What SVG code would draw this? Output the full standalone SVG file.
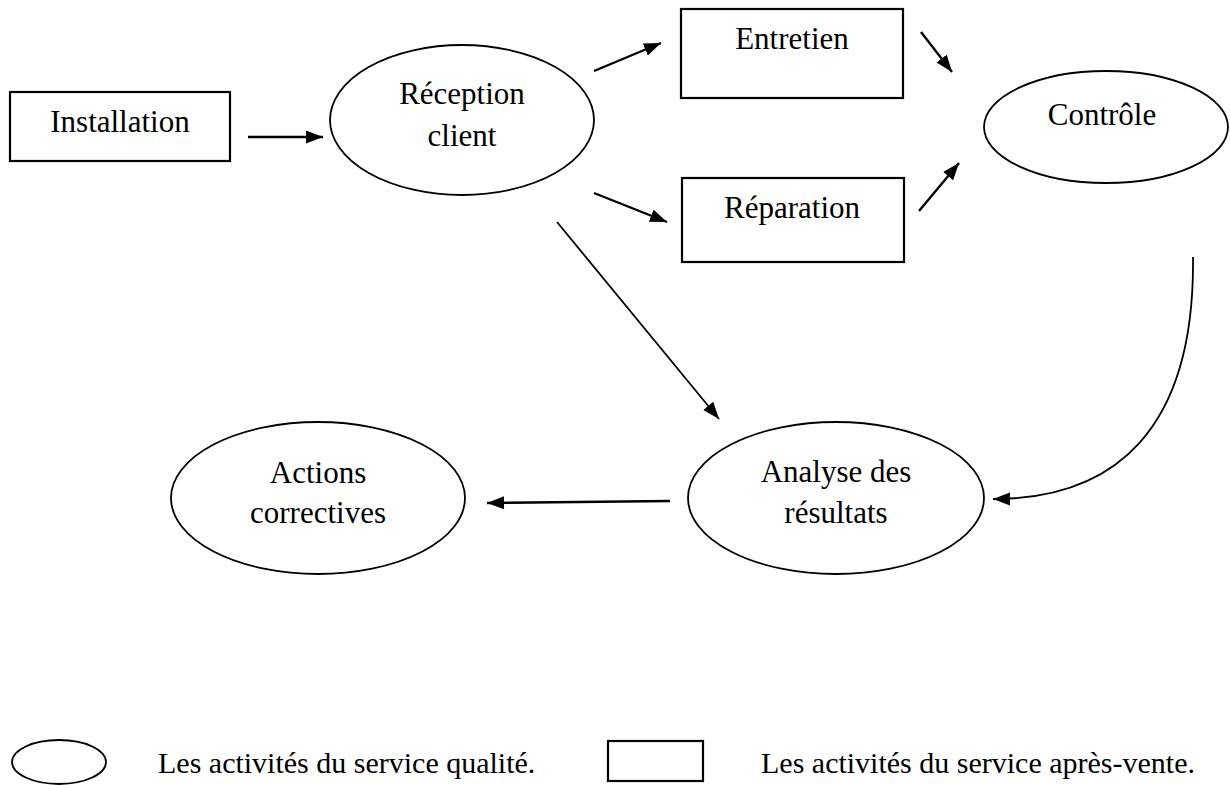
<svg xmlns="http://www.w3.org/2000/svg" width="1230" height="785" viewBox="0 0 1230 785">
  <style>
    .box { fill: #fff; stroke: #000; stroke-width: 2.2; }
    .oval { fill: #fff; stroke: #000; stroke-width: 1.8; }
    .lbl { font-family: "Liberation Serif", "Times New Roman", serif; font-size: 31px; fill: #000; text-anchor: middle; }
    .leg { font-family: "Liberation Serif", "Times New Roman", serif; font-size: 30px; fill: #000; }
    .edge { fill: none; stroke: #000; stroke-width: 2.4; marker-end: url(#arrow); }
    .thin { stroke-width: 1.8; }
  </style>
  <defs>
    <marker id="arrow" markerUnits="userSpaceOnUse" markerWidth="18" markerHeight="14" refX="17" refY="6.5" orient="auto">
      <path d="M0,0 L17,6.5 L0,13 Z" fill="#000"/>
    </marker>
  </defs>
  <rect width="1230" height="785" fill="#fff"/>

  <g id="installation">
    <rect class="box" x="10" y="92" width="220" height="69"/>
    <text class="lbl" x="120" y="132">Installation</text>
  </g>

  <g id="reception-client">
    <ellipse class="oval" cx="462" cy="120" rx="132" ry="75"/>
    <text class="lbl" x="462" y="104">Réception</text>
    <text class="lbl" x="462" y="146">client</text>
  </g>

  <g id="entretien">
    <rect class="box" x="681" y="9" width="222" height="89"/>
    <text class="lbl" x="792" y="49">Entretien</text>
  </g>

  <g id="reparation">
    <rect class="box" x="682" y="178" width="222" height="84"/>
    <text class="lbl" x="792" y="218">Réparation</text>
  </g>

  <g id="controle">
    <ellipse class="oval" cx="1106" cy="127" rx="122" ry="56"/>
    <text class="lbl" x="1102" y="125">Contrôle</text>
  </g>

  <g id="analyse-resultats">
    <ellipse class="oval" cx="836" cy="498" rx="148" ry="76"/>
    <text class="lbl" x="836" y="482">Analyse des</text>
    <text class="lbl" x="836" y="523">résultats</text>
  </g>

  <g id="actions-correctives">
    <ellipse class="oval" cx="318" cy="498" rx="147" ry="76"/>
    <text class="lbl" x="318" y="483">Actions</text>
    <text class="lbl" x="318" y="523">correctives</text>
  </g>

  <g id="connectors">
    <line class="edge" x1="248" y1="137" x2="323" y2="137"/>
    <line class="edge" x1="594" y1="71" x2="661" y2="43"/>
    <line class="edge" x1="594" y1="193" x2="667" y2="222"/>
    <line class="edge" x1="921" y1="32" x2="952" y2="72"/>
    <line class="edge" x1="919" y1="211" x2="959" y2="163"/>
    <line class="edge thin" x1="557" y1="222" x2="719" y2="419"/>
    <path class="edge thin" d="M1193,257 C1195,430 1115,499 993,499"/>
    <line class="edge" x1="670" y1="501" x2="487" y2="503"/>
  </g>

  <g id="legend">
    <ellipse class="oval" cx="59" cy="762" rx="47" ry="22"/>
    <text class="leg" x="158" y="773">Les activités du service qualité.</text>
    <rect class="box" x="608" y="741" width="95" height="40"/>
    <text class="leg" x="761" y="773">Les activités du service après-vente.</text>
  </g>
</svg>
